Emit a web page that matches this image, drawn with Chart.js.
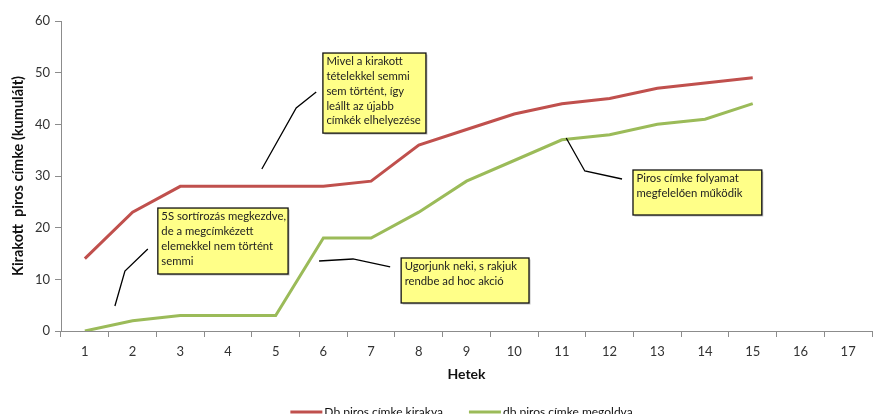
<!DOCTYPE html>
<html><head><meta charset="utf-8">
<script src="https://cdn.jsdelivr.net/npm/chart.js@4.4.0/dist/chart.umd.min.js"></script>
<style>html,body{margin:0;padding:0;background:#fff;overflow:hidden}</style>
</head><body>
<canvas id="c" width="877" height="414"></canvas>
<script>
// ---- data ----
const weeks = ['1','2','3','4','5','6','7','8','9','10','11','12','13','14','15','16','17'];
const kirakva = [14,23,28,28,28,28,29,36,39,42,44,45,47,48,49];
const megoldva = [0,2,3,3,3,18,18,23,29,33,37,38,40,41,44];
const yTickValues = [0,10,20,30,40,50,60];
const seriesLabels = ['Db piros címke kirakva','db piros címke megoldva'];
const seriesColors = ['#C0504D','#9BBB59'];
const xTitle = 'Hetek';
const yTitle = 'Kirakott  piros címke (kumulált)';

// callouts (positions in data units: x = week index, y = value)
const notes = [
  {text:['Mivel a kirakott','tételekkel semmi','sem történt, így','leállt az újabb','címkék elhelyezése'],
   box:[4.99,53.8,7.15,38.3], leader:[[3.71,31.35],[4.43,43.16],[4.85,46.26]]},
  {text:['5S sortírozás megkezdve,','de a megcímkézett','elemekkel nem történt','semmi'],
   box:[1.53,23.8,4.26,11.03], leader:[[0.63,4.84],[0.84,11.61],[1.32,15.87]]},
  {text:['Ugorjunk neki, s rakjuk','rendbe ad hoc akció'],
   box:[6.63,14.13,9.31,5.42], leader:[[4.91,13.55],[5.62,13.94],[6.40,12.39]]},
  {text:['Piros címke folyamat','megfelelően működik'],
   box:[11.49,31.16,14.19,22.45], leader:[[10.09,37.35],[10.48,30.97],[11.26,29.42]]}
];

const FONT = 'Lato, "Open Sans", sans-serif';

const notesPlugin = {
  id: 'notes',
  afterDatasetsDraw(chart) {
    const {ctx, scales:{x, y}} = chart;
    ctx.save();
    notes.forEach(n => {
      ctx.beginPath();
      n.leader.forEach((p, i) => {
        const px = x.getPixelForValue(p[0]), py = y.getPixelForValue(p[1]);
        if (i === 0) ctx.moveTo(px, py); else ctx.lineTo(px, py);
      });
      ctx.strokeStyle = '#000'; ctx.lineWidth = 1.3; ctx.stroke();
      const x1 = x.getPixelForValue(n.box[0]), y1 = y.getPixelForValue(n.box[1]);
      const x2 = x.getPixelForValue(n.box[2]), y2 = y.getPixelForValue(n.box[3]);
      ctx.fillStyle = 'rgba(0,0,0,0.25)';
      ctx.fillRect(x1 + 1.5, y1 + 1.5, x2 - x1, y2 - y1);
      ctx.fillStyle = '#FFFF88';
      ctx.fillRect(x1, y1, x2 - x1, y2 - y1);
      ctx.strokeStyle = '#111'; ctx.lineWidth = 1.3;
      ctx.strokeRect(x1, y1, x2 - x1, y2 - y1);
      ctx.fillStyle = '#222';
      ctx.font = '11.3px ' + FONT;
      ctx.textBaseline = 'middle'; ctx.textAlign = 'left';
      n.text.forEach((t, i) => ctx.fillText(t, x1 + 3.5, y1 + 8.5 + i * 14.8));
    });
    ctx.restore();
  }
};

const legendPlugin = {
  id: 'customLegend',
  afterDraw(chart) {
    const {ctx, chartArea} = chart;
    ctx.save();
    ctx.font = '12px ' + FONT;
    const sample = 32, gap = 2, spacing = 26;
    const items = chart.data.datasets.map(d => ({label: d.label, color: d.borderColor, w: ctx.measureText(d.label).width}));
    let total = items.reduce((s, it) => s + sample + gap + it.w, 0) + spacing * (items.length - 1);
    let cx = (chartArea.left + chartArea.right) / 2 - 5 - total / 2;
    const yy = 412;
    items.forEach(it => {
      ctx.beginPath(); ctx.moveTo(cx, yy); ctx.lineTo(cx + sample, yy);
      ctx.strokeStyle = it.color; ctx.lineWidth = 3; ctx.stroke();
      ctx.fillStyle = '#111'; ctx.textBaseline = 'middle'; ctx.textAlign = 'left';
      ctx.fillText(it.label, cx + sample + gap, yy);
      cx += sample + gap + it.w + spacing;
    });
    ctx.restore();
  }
};

new Chart(document.getElementById('c'), {
  type: 'line',
  data: {
    labels: weeks,
    datasets: [
      {label: seriesLabels[0], data: kirakva, borderColor: seriesColors[0], backgroundColor: seriesColors[0], borderWidth: 3, pointRadius: 0, tension: 0},
      {label: seriesLabels[1], data: megoldva, borderColor: seriesColors[1], backgroundColor: seriesColors[1], borderWidth: 3, pointRadius: 0, tension: 0}
    ]
  },
  options: {
    responsive: false,
    animation: false,
    layout: {padding: {top: 21, right: 5, left: 0, bottom: 0}},
    plugins: {legend: {display: false}, tooltip: {enabled: false}},
    scales: {
      x: {
        type: 'category', offset: true,
        grid: {offset: true, drawOnChartArea: false, drawTicks: true, tickLength: 6, color: '#8c8c8c'},
        border: {display: true, color: '#8c8c8c', width: 1},
        ticks: {padding: 7, color: '#333', font: {family: FONT, size: 13}},
        title: {display: true, text: xTitle, color: '#111', font: {family: FONT, size: 14, weight: 'bold'}, padding: {top: 0, bottom: 31}},
        afterFit(s) { s.height = 83; }
      },
      y: {
        min: 0, max: 60,
        afterBuildTicks(s) { s.ticks = yTickValues.map(v => ({value: v})); },
        grid: {drawOnChartArea: false, drawTicks: true, tickLength: 6, color: '#8c8c8c'},
        border: {display: true, color: '#8c8c8c', width: 1},
        ticks: {padding: 5, color: '#333', font: {family: FONT, size: 13}},
        title: {display: true, text: yTitle, color: '#111', font: {family: FONT, size: 14.5, weight: 'bold'}, padding: {top: 10, bottom: 0}},
        afterFit(s) { s.width = 61; }
      }
    }
  },
  plugins: [notesPlugin, legendPlugin]
});
</script>
</body></html>
